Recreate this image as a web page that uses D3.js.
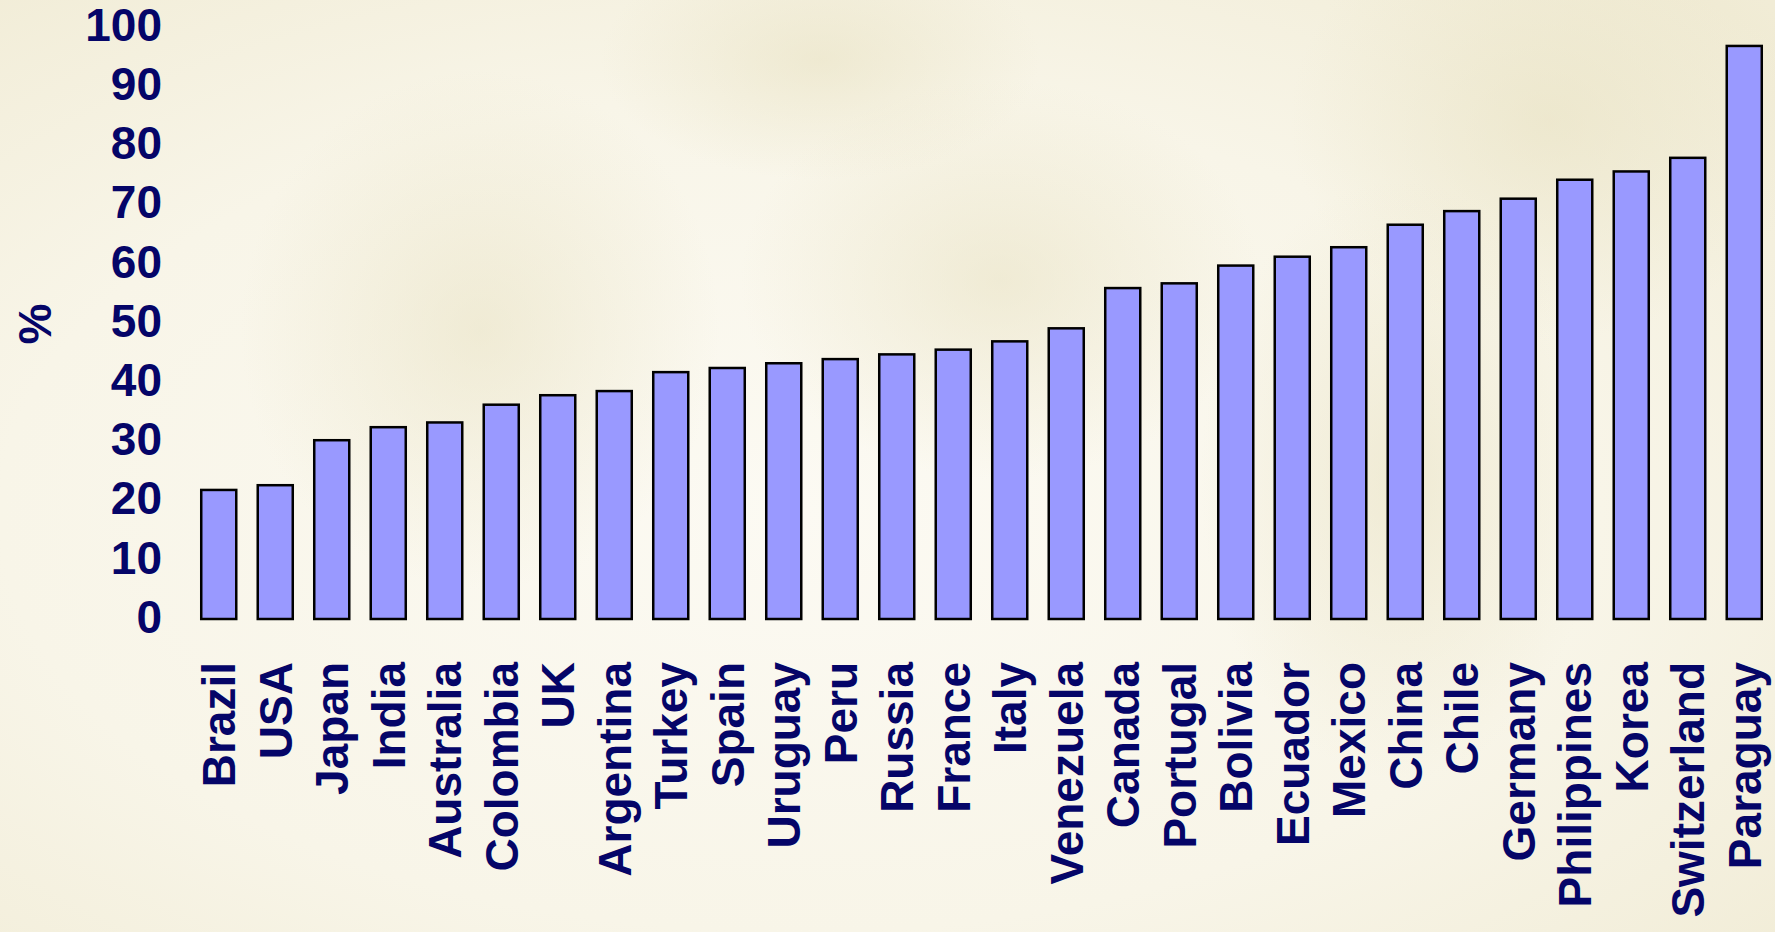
<!DOCTYPE html>
<html>
<head>
<meta charset="utf-8">
<script src="https://d3js.org/d3.v7.min.js"></script>
<style>
  html, body { margin: 0; padding: 0; overflow: hidden; }
  svg { display: block; }
</style>
</head>
<body>
<svg width="1775" height="932"></svg>
<script>
  // data
  var countries = ["Brazil","USA","Japan","India","Australia","Colombia","UK","Argentina",
    "Turkey","Spain","Uruguay","Peru","Russia","France","Italy","Venezuela","Canada",
    "Portugal","Bolivia","Ecuador","Mexico","China","Chile","Germany","Philippines",
    "Korea","Switzerland","Paraguay"];
  var values = [21.8,22.6,30.2,32.4,33.2,36.2,37.8,38.5,41.7,42.4,43.2,43.9,44.7,45.5,
    46.9,49.1,55.9,56.7,59.7,61.2,62.8,66.6,68.9,71.0,74.2,75.6,77.9,96.8];
  var yTicks = [0,10,20,30,40,50,60,70,80,90,100];

  var svg = d3.select("svg"),
    width = +svg.attr("width"),
    height = +svg.attr("height");

  var navy = "#050568";
  var font = "'Liberation Sans', Arial, sans-serif";

  // background: pale cream, a few soft blotches like the faded banknote
  var defs = svg.append("defs");
  var bg = defs.append("radialGradient").attr("id","bgGrad")
    .attr("cx","0.45").attr("cy","0.55").attr("r","0.75");
  bg.append("stop").attr("offset","0").attr("stop-color","#fcfaf3");
  bg.append("stop").attr("offset","0.6").attr("stop-color","#f8f5e8");
  bg.append("stop").attr("offset","1").attr("stop-color","#f1ecd6");
  var blot = defs.append("radialGradient").attr("id","blot");
  blot.append("stop").attr("offset","0").attr("stop-color","#e6dfbd").attr("stop-opacity",0.5);
  blot.append("stop").attr("offset","1").attr("stop-color","#e6dfbd").attr("stop-opacity",0);

  svg.append("rect").attr("width",width).attr("height",height).attr("fill","url(#bgGrad)");
  var blots = [[1000,280,260,200],[1550,120,260,220],[480,330,240,260],[820,60,220,120],[1400,480,200,300]];
  svg.append("g").selectAll("ellipse").data(blots).enter().append("ellipse")
    .attr("cx",function(d){return d[0]}).attr("cy",function(d){return d[1]})
    .attr("rx",function(d){return d[2]}).attr("ry",function(d){return d[3]})
    .attr("fill","url(#blot)");

  var xscale = d3.scaleBand()
    .domain(countries)
    .range([190.5, 1772.5])
    .paddingInner(0.336)
    .paddingOuter(0.168);

  var yscale = d3.scaleLinear()
    .domain([0,100])
    .range([619,27]);

  // y tick labels
  svg.append("g").selectAll("text")
    .data(yTicks).enter().append("text")
    .attr("x",162)
    .attr("y",function(d){return yscale(d)})
    .attr("dy","0.3em")
    .attr("text-anchor","end")
    .attr("font-family",font)
    .attr("font-weight","bold")
    .attr("font-size",46)
    .attr("fill",navy)
    .text(function(d){return d});

  // axis title
  svg.append("text")
    .attr("transform","translate(51,324) rotate(-90)")
    .attr("text-anchor","middle")
    .attr("font-family",font)
    .attr("font-weight","bold")
    .attr("font-size",46)
    .attr("fill",navy)
    .text("%");

  // bars
  svg.append("g").selectAll("rect")
    .data(values).enter().append("rect")
    .attr("x",function(d,i){return xscale(countries[i]) + 1.25})
    .attr("y",function(d){return yscale(d)})
    .attr("width",xscale.bandwidth() - 2.5)
    .attr("height",function(d){return yscale(0) - yscale(d)})
    .attr("fill","#9999ff")
    .attr("stroke","#000")
    .attr("stroke-width",2.5);

  // country labels, rotated
  svg.append("g").selectAll("text")
    .data(countries).enter().append("text")
    .attr("transform",function(d){
      var cx = xscale(d) + xscale.bandwidth()/2 + 16.5;
      return "translate(" + cx + ",662) rotate(-90)";
    })
    .attr("text-anchor","end")
    .attr("font-family",font)
    .attr("font-weight","bold")
    .attr("font-size",46)
    .attr("fill",navy)
    .text(function(d){return d});
</script>
</body>
</html>
